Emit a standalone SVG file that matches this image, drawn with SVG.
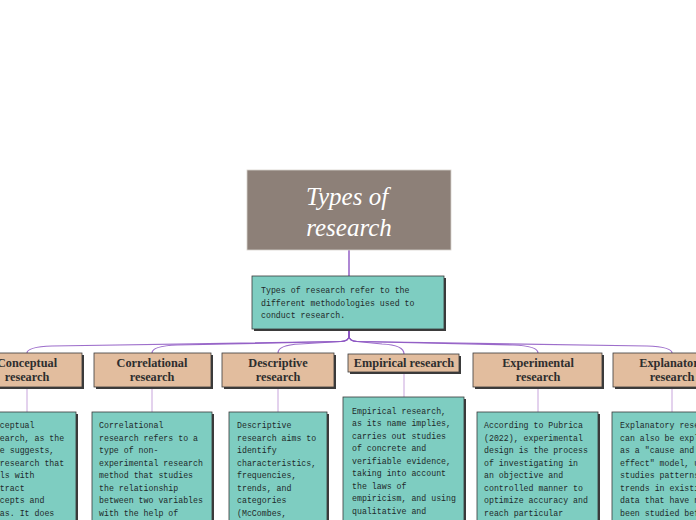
<svg xmlns="http://www.w3.org/2000/svg" width="696" height="520" viewBox="0 0 696 520">
<style>
.conn{fill:none;stroke:#8c55c2;stroke-width:1.2;opacity:0.85}
.stem{fill:none;stroke:#c8a5dc;stroke-width:1}
.head{fill:#e2bd9e;stroke:#3a3a3a;stroke-width:0.8}
.box{fill:#7ecdc1;stroke:#3a3a3a;stroke-width:0.8}
.shadow{fill:#3b3b3b}
.ht{font-family:"Liberation Serif",serif;font-weight:bold;font-size:12.3px;fill:#2e2e2e;text-anchor:middle}
.bt{font-family:"Liberation Mono",monospace;font-size:8.25px;fill:#1f2a2a}
.title{font-family:"Liberation Serif",serif;font-style:italic;font-size:25px;fill:#ffffff;text-anchor:middle}
</style>
<rect width="696" height="520" fill="#ffffff"/>
<g id="connectors">
<line x1="349" y1="250" x2="349" y2="276" stroke="#8c55c2" stroke-width="1.4"/>
<path class="conn" d="M349,329 L349,336 Q349,341 341,341.5 L52,346 Q27,347 27,353"/>
<path class="conn" d="M349,329 L349,336 Q349,341 341,341.5 L177,345 Q152,346 152,353"/>
<path class="conn" d="M349,329 L349,336 Q349,341 341,341.5 L300,344 Q278,345 278,353"/>
<path class="conn" d="M349,329 L349,336 Q349,341 357,341.5 L382,344 Q404,345 404,354"/>
<path class="conn" d="M349,329 L349,336 Q349,341 357,341.5 L513,345 Q538,346 538,353"/>
<path class="conn" d="M349,329 L349,336 Q349,341 357,341.5 L647,346 Q672,347 672,353"/>
<line class="stem" x1="27" y1="387" x2="27" y2="412"/>
<line class="stem" x1="152" y1="387" x2="152" y2="412"/>
<line class="stem" x1="278" y1="387" x2="278" y2="412"/>
<line class="stem" x1="404" y1="372" x2="404" y2="397"/>
<line class="stem" x1="538" y1="387" x2="538" y2="412"/>
<line class="stem" x1="672" y1="387" x2="672" y2="412"/>
</g>
<g id="title">
<rect x="247" y="170" width="204" height="80" fill="#8d8078" stroke="#d8d2cc" stroke-width="0.8"/>
<text class="title" x="347" y="205">Types of</text>
<text class="title" x="349" y="236">research</text>
</g>
<g id="summary">
<rect class="shadow" x="254" y="278" width="192" height="53"/>
<rect class="box" x="252" y="276" width="192" height="53"/>
<text class="bt" x="261" y="293">Types of research refer to the</text>
<text class="bt" x="261" y="305.5">different methodologies used to</text>
<text class="bt" x="261" y="318">conduct research.</text>
</g>
<g id="conceptual">
<rect class="shadow" x="-26" y="355" width="110" height="34"/>
<rect class="head" x="-28" y="353" width="110" height="34"/>
<text class="ht" x="27" y="366.5">Conceptual</text>
<text class="ht" x="27" y="380.5">research</text>
<rect class="shadow" x="-20" y="414" width="98" height="130"/>
<rect class="box" x="-22" y="412" width="98" height="130"/>
<text class="bt" x="-15" y="428">Conceptual</text>
<text class="bt" x="-15" y="440.5">research, as the</text>
<text class="bt" x="-15" y="453">name suggests,</text>
<text class="bt" x="-15" y="465.5">is research that</text>
<text class="bt" x="-15" y="478">deals with</text>
<text class="bt" x="-15" y="490.5">abstract</text>
<text class="bt" x="-15" y="503">concepts and</text>
<text class="bt" x="-15" y="515.5">ideas. It does</text>
</g>
<g id="correlational">
<rect class="shadow" x="96" y="355" width="117" height="34"/>
<rect class="head" x="94" y="353" width="117" height="34"/>
<text class="ht" x="152" y="366.5">Correlational</text>
<text class="ht" x="152" y="380.5">research</text>
<rect class="shadow" x="94" y="414" width="120" height="130"/>
<rect class="box" x="92" y="412" width="120" height="130"/>
<text class="bt" x="99" y="428">Correlational</text>
<text class="bt" x="99" y="440.5">research refers to a</text>
<text class="bt" x="99" y="453">type of non-</text>
<text class="bt" x="99" y="465.5">experimental research</text>
<text class="bt" x="99" y="478">method that studies</text>
<text class="bt" x="99" y="490.5">the relationship</text>
<text class="bt" x="99" y="503">between two variables</text>
<text class="bt" x="99" y="515.5">with the help of</text>
</g>
<g id="descriptive">
<rect class="shadow" x="224" y="355" width="112" height="34"/>
<rect class="head" x="222" y="353" width="112" height="34"/>
<text class="ht" x="278" y="366.5">Descriptive</text>
<text class="ht" x="278" y="380.5">research</text>
<rect class="shadow" x="231" y="414" width="98" height="130"/>
<rect class="box" x="229" y="412" width="98" height="130"/>
<text class="bt" x="237" y="428">Descriptive</text>
<text class="bt" x="237" y="440.5">research aims to</text>
<text class="bt" x="237" y="453">identify</text>
<text class="bt" x="237" y="465.5">characteristics,</text>
<text class="bt" x="237" y="478">frequencies,</text>
<text class="bt" x="237" y="490.5">trends, and</text>
<text class="bt" x="237" y="503">categories</text>
<text class="bt" x="237" y="515.5">(McCombes,</text>
</g>
<g id="empirical">
<rect class="shadow" x="350" y="356" width="111" height="18"/>
<rect class="head" x="348" y="354" width="111" height="18"/>
<text class="ht" x="404" y="367">Empirical research</text>
<rect class="shadow" x="345" y="399" width="121" height="140"/>
<rect class="box" x="343" y="397" width="121" height="140"/>
<text class="bt" x="352" y="413.5">Empirical research,</text>
<text class="bt" x="352" y="426">as its name implies,</text>
<text class="bt" x="352" y="438.5">carries out studies</text>
<text class="bt" x="352" y="451">of concrete and</text>
<text class="bt" x="352" y="463.5">verifiable evidence,</text>
<text class="bt" x="352" y="476">taking into account</text>
<text class="bt" x="352" y="488.5">the laws of</text>
<text class="bt" x="352" y="501">empiricism, and using</text>
<text class="bt" x="352" y="513.5">qualitative and</text>
</g>
<g id="experimental">
<rect class="shadow" x="475" y="355" width="129" height="34"/>
<rect class="head" x="473" y="353" width="129" height="34"/>
<text class="ht" x="538" y="366.5">Experimental</text>
<text class="ht" x="538" y="380.5">research</text>
<rect class="shadow" x="479" y="414" width="121" height="130"/>
<rect class="box" x="477" y="412" width="121" height="130"/>
<text class="bt" x="484" y="428">According to Pubrica</text>
<text class="bt" x="484" y="440.5">(2022), experimental</text>
<text class="bt" x="484" y="453">design is the process</text>
<text class="bt" x="484" y="465.5">of investigating in</text>
<text class="bt" x="484" y="478">an objective and</text>
<text class="bt" x="484" y="490.5">controlled manner to</text>
<text class="bt" x="484" y="503">optimize accuracy and</text>
<text class="bt" x="484" y="515.5">reach particular</text>
</g>
<g id="explanatory">
<rect class="shadow" x="615" y="355" width="118" height="34"/>
<rect class="head" x="613" y="353" width="118" height="34"/>
<text class="ht" x="672" y="366.5">Explanatory</text>
<text class="ht" x="672" y="380.5">research</text>
<rect class="shadow" x="614" y="414" width="120" height="130"/>
<rect class="box" x="612" y="412" width="120" height="130"/>
<text class="bt" x="620" y="428">Explanatory research</text>
<text class="bt" x="620" y="440.5">can also be explained</text>
<text class="bt" x="620" y="453">as a "cause and</text>
<text class="bt" x="620" y="465.5">effect" model, using</text>
<text class="bt" x="620" y="478">studies patterns and</text>
<text class="bt" x="620" y="490.5">trends in existing</text>
<text class="bt" x="620" y="503">data that have not</text>
<text class="bt" x="620" y="515.5">been studied before</text>
</g>
</svg>
